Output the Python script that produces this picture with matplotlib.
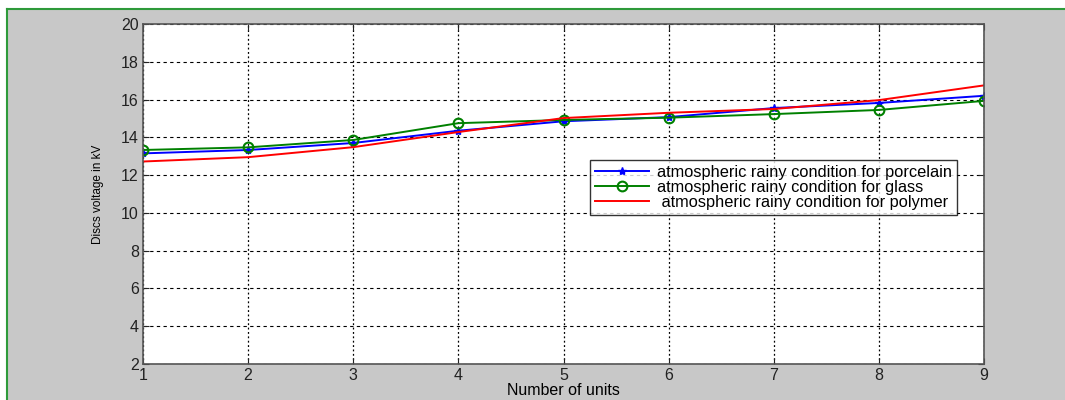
import numpy as np
import matplotlib.pyplot as plt

plt.rcParams['font.family'] = ['Liberation Sans', 'DejaVu Sans']

# Data
units = [1, 2, 3, 4, 5, 6, 7, 8, 9]
porcelain = [13.15, 13.33, 13.7, 14.35, 14.85, 15.07, 15.55, 15.82, 16.2]
glass = [13.33, 13.47, 13.86, 14.75, 14.92, 15.04, 15.23, 15.45, 15.93]
polymer = [12.72, 12.95, 13.48, 14.28, 15.02, 15.3, 15.5, 15.97, 16.75]

labels = [
    "atmospheric rainy condition for porcelain",
    "atmospheric rainy condition for glass",
    " atmospheric rainy condition for polymer",
]
yticks = [2, 4, 6, 8, 10, 12, 14, 16, 18, 20]

fig = plt.figure(figsize=(10.65, 4), dpi=100, facecolor="white")

# gray figure panel with green border on top and left
bg = fig.add_axes([7 / 1065, 0, 1 - 7 / 1065, 1 - 9 / 400])
bg.set_facecolor("#c8c8c8")
bg.set_xticks([])
bg.set_yticks([])
for side in ["right", "bottom"]:
    bg.spines[side].set_visible(False)
for side in ["top", "left"]:
    bg.spines[side].set_color("#2e9a3a")
    bg.spines[side].set_linewidth(1.5)
bg.set_zorder(0)

ax = fig.add_axes([143 / 1065, 36 / 400, (984 - 143) / 1065, (364 - 24) / 400])
ax.set_zorder(1)
ax.set_facecolor("white")

ax.plot(units, porcelain, color="#0000ff", marker="*", markersize=6, linewidth=1.4, label=labels[0])
ax.plot(units, glass, color="#008000", marker="o", markersize=7, markerfacecolor="none",
        markeredgewidth=1.5, linewidth=1.4, label=labels[1])
ax.plot(units, polymer, color="#ff0000", linewidth=1.4, label=labels[2])

ax.set_xlim(1, 9)
ax.set_ylim(2, 20)
ax.set_xticks(units)
ax.set_yticks(yticks)
ax.tick_params(direction="in", labelsize=11.5, colors="#222222", length=4, top=True, right=True, pad=3)
ax.xaxis.grid(True, color="black", linestyle=(0, (1.5, 2)), linewidth=0.9)
ax.yaxis.grid(True, color="black", linestyle=(0, (3, 3)), linewidth=0.8)
for s in ax.spines.values():
    s.set_color("#555555")
    s.set_linewidth(1.2)

ax.set_xlabel("Number of units", fontsize=11.5, labelpad=0)
ax.set_ylabel("Discs voltage in kV", fontsize=8.5, labelpad=12)

leg = ax.legend(loc="upper left", bbox_to_anchor=((590 - 143) / 841, (364 - 160) / 340),
                borderaxespad=0, fontsize=11.8, frameon=True, fancybox=False, edgecolor="black",
                borderpad=0.3, labelspacing=0.0, handlelength=3.3, handletextpad=0.5)
leg.get_frame().set_linewidth(1.0)

fig.savefig("out.png", dpi=100)
